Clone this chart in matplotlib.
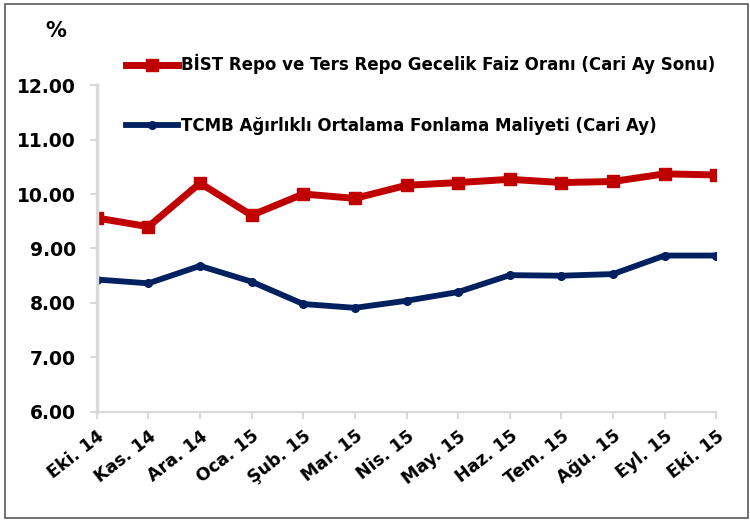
import matplotlib
matplotlib.use("Agg")
import matplotlib.pyplot as plt
from matplotlib.patches import Rectangle

months = ["Eki. 14", "Kas. 14", "Ara. 14", "Oca. 15", "Şub. 15", "Mar. 15", "Nis. 15",
          "May. 15", "Haz. 15", "Tem. 15", "Ağu. 15", "Eyl. 15", "Eki. 15"]
bist_repo = [9.56, 9.40, 10.20, 9.61, 10.00, 9.92, 10.16, 10.21, 10.27, 10.21, 10.23, 10.37, 10.35]
tcmb_cost = [8.43, 8.36, 8.68, 8.39, 7.98, 7.91, 8.04, 8.20, 8.51, 8.50, 8.53, 8.87, 8.87]
yticks = [6, 7, 8, 9, 10, 11, 12]

RED = "#C00000"
BLUE = "#002060"
GRID = "#D9D9D9"

plt.rcParams["font.family"] = ["DejaVu Sans"]
plt.rcParams["font.weight"] = "bold"

fig = plt.figure(figsize=(7.5, 5.22), dpi=100)
ax = fig.add_axes([0.129, 0.211, 0.826, 0.626])

x = list(range(len(months)))
l1, = ax.plot(x, bist_repo, color=RED, lw=5, marker="s", ms=8,
              label="BİST Repo ve Ters Repo Gecelik Faiz Oranı (Cari Ay Sonu)")
l2, = ax.plot(x, tcmb_cost, color=BLUE, lw=4.2, marker="o", ms=5.5,
              label="TCMB Ağırlıklı Ortalama Fonlama Maliyeti (Cari Ay)")

ax.set_xlim(0, len(months) - 1)
ax.set_ylim(6, 12)
ax.set_yticks(yticks)
ax.set_yticklabels([f"{v:.2f}" for v in yticks], fontsize=13.5, fontweight="bold")
ax.set_xticks(x)
ax.set_xticklabels(months, rotation=38, ha="right", rotation_mode="anchor",
                   fontsize=12.5, fontweight="bold")

for s in ["top", "right"]:
    ax.spines[s].set_visible(False)
ax.spines["left"].set_color(GRID)
ax.spines["left"].set_linewidth(2.5)
ax.spines["bottom"].set_color(GRID)
ax.spines["bottom"].set_linewidth(1.5)
ax.tick_params(axis="both", color=GRID, width=1.5, length=5, direction="out")
ax.tick_params(axis="x", pad=6)
ax.tick_params(axis="y", pad=10)

fig.text(0.075, 0.94, "%", fontsize=15, fontweight="bold", ha="center", va="center")

fig.legend(handles=[l1, l2], loc="upper left", bbox_to_anchor=(0.148, 0.925),
           frameon=False, labelspacing=2.55, handlelength=3.1,
           handletextpad=0.2, prop={"weight": "bold", "size": 12})

fig.patches.append(Rectangle((0.007, 0.008), 0.99, 0.985, transform=fig.transFigure,
                             fill=False, edgecolor="#595959", lw=1.2))

fig.savefig("out.png", dpi=100)
